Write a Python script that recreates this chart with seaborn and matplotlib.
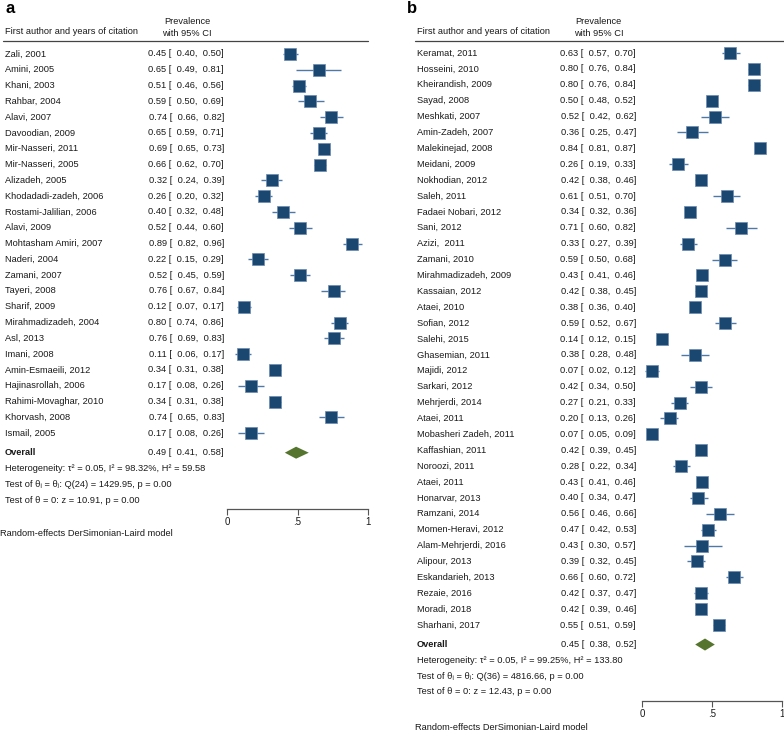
import numpy as np
import pandas as pd
import matplotlib
matplotlib.use("Agg")
import matplotlib.pyplot as plt
import matplotlib.transforms as mtransforms
from matplotlib.lines import Line2D
import seaborn as sns

# ---------------- data ----------------
names_a = ["Zali, 2001", "Amini, 2005", "Khani, 2003", "Rahbar, 2004", "Alavi, 2007",
           "Davoodian, 2009", "Mir-Nasseri, 2011", "Mir-Nasseri, 2005", "Alizadeh, 2005",
           "Khodadadi-zadeh, 2006", "Rostami-Jalilian, 2006", "Alavi, 2009",
           "Mohtasham Amiri, 2007", "Naderi, 2004", "Zamani, 2007", "Tayeri, 2008",
           "Sharif, 2009", "Mirahmadizadeh, 2004", "Asl, 2013", "Imani, 2008",
           "Amin-Esmaeili, 2012", "Hajinasrollah, 2006", "Rahimi-Movaghar, 2010",
           "Khorvash, 2008", "Ismail, 2005"]
est_a = [0.45, 0.65, 0.51, 0.59, 0.74, 0.65, 0.69, 0.66, 0.32, 0.26, 0.40, 0.52, 0.89,
         0.22, 0.52, 0.76, 0.12, 0.80, 0.76, 0.11, 0.34, 0.17, 0.34, 0.74, 0.17]
lo_a = [0.40, 0.49, 0.46, 0.50, 0.66, 0.59, 0.65, 0.62, 0.24, 0.20, 0.32, 0.44, 0.82,
        0.15, 0.45, 0.67, 0.07, 0.74, 0.69, 0.06, 0.31, 0.08, 0.31, 0.65, 0.08]
hi_a = [0.50, 0.81, 0.56, 0.69, 0.82, 0.71, 0.73, 0.70, 0.39, 0.32, 0.48, 0.60, 0.96,
        0.29, 0.59, 0.84, 0.17, 0.86, 0.83, 0.17, 0.38, 0.26, 0.38, 0.83, 0.26]
overall_a = [0.49, 0.41, 0.58]
stats_a = ["Heterogeneity: \u03c4\u00b2 = 0.05, I\u00b2 = 98.32%, H\u00b2 = 59.58",
           "Test of \u03b8\u1d62 = \u03b8\u2c7c: Q(24) = 1429.95, p = 0.00",
           "Test of \u03b8 = 0: z = 10.91, p = 0.00"]

names_b = ["Keramat, 2011", "Hosseini, 2010", "Kheirandish, 2009", "Sayad, 2008",
           "Meshkati, 2007", "Amin-Zadeh, 2007", "Malekinejad, 2008", "Meidani, 2009",
           "Nokhodian, 2012", "Saleh, 2011", "Fadaei Nobari, 2012", "Sani, 2012",
           "Azizi,  2011", "Zamani, 2010", "Mirahmadizadeh, 2009", "Kassaian, 2012",
           "Ataei, 2010", "Sofian, 2012", "Salehi, 2015", "Ghasemian, 2011",
           "Majidi, 2012", "Sarkari, 2012", "Mehrjerdi, 2014", "Ataei, 2011",
           "Mobasheri Zadeh, 2011", "Kaffashian, 2011", "Noroozi, 2011", "Ataei, 2011",
           "Honarvar, 2013", "Ramzani, 2014", "Momen-Heravi, 2012",
           "Alam-Mehrjerdi, 2016", "Alipour, 2013", "Eskandarieh, 2013",
           "Rezaie, 2016", "Moradi, 2018", "Sharhani, 2017"]
est_b = [0.63, 0.80, 0.80, 0.50, 0.52, 0.36, 0.84, 0.26, 0.42, 0.61, 0.34, 0.71, 0.33,
         0.59, 0.43, 0.42, 0.38, 0.59, 0.14, 0.38, 0.07, 0.42, 0.27, 0.20, 0.07, 0.42,
         0.28, 0.43, 0.40, 0.56, 0.47, 0.43, 0.39, 0.66, 0.42, 0.42, 0.55]
lo_b = [0.57, 0.76, 0.76, 0.48, 0.42, 0.25, 0.81, 0.19, 0.38, 0.51, 0.32, 0.60, 0.27,
        0.50, 0.41, 0.38, 0.36, 0.52, 0.12, 0.28, 0.02, 0.34, 0.21, 0.13, 0.05, 0.39,
        0.22, 0.41, 0.34, 0.46, 0.42, 0.30, 0.32, 0.60, 0.37, 0.39, 0.51]
hi_b = [0.70, 0.84, 0.84, 0.52, 0.62, 0.47, 0.87, 0.33, 0.46, 0.70, 0.36, 0.82, 0.39,
        0.68, 0.46, 0.45, 0.40, 0.67, 0.15, 0.48, 0.12, 0.50, 0.33, 0.26, 0.09, 0.45,
        0.34, 0.46, 0.47, 0.66, 0.53, 0.57, 0.45, 0.72, 0.47, 0.46, 0.59]
overall_b = [0.45, 0.38, 0.52]
stats_b = ["Heterogeneity: \u03c4\u00b2 = 0.05, I\u00b2 = 99.25%, H\u00b2 = 133.80",
           "Test of \u03b8\u1d62 = \u03b8\u2c7c: Q(36) = 4816.66, p = 0.00",
           "Test of \u03b8 = 0: z = 12.43, p = 0.00"]

tick_vals = [0, 0.5, 1]
tick_labels = ["0", ".5", "1"]
header_left = "First author and years of citation"
header_right = ["Prevalence", "with 95% CI"]
footer = "Random-effects DerSimonian-Laird model"

# ---------------- style ----------------
sns.set_theme(style="white")
plt.rcParams['font.family'] = ['Liberation Sans', 'DejaVu Sans']

W, H = 784, 730
FS = 6.7
TXT = '#1a1a1a'
SQ = '#1a476f'
CI = '#4f78a6'
DIA = '#55752f'

fig = plt.figure(figsize=(W / 100, H / 100), dpi=100)


def fx(px):
    return px / W


def fy(py):
    return 1 - py / H


def panel(letter, letter_x, names, est, lo, hi, overall, stats,
          ax_l, ax_r, row0, step, ax_bot, name_x, val_r, head_c, line_l, line_r):
    n = len(names)
    top_px = 41
    ax = fig.add_axes([fx(ax_l), fy(ax_bot), fx(ax_r) - fx(ax_l), (ax_bot - top_px) / H])
    ylo = (ax_bot - row0) / step
    yhi = (top_px - row0) / step
    ax.set_xlim(0, 1)
    ax.set_ylim(ylo, yhi)
    rows = np.arange(n)
    df = pd.DataFrame({"name": names, "est": est, "lo": lo, "hi": hi, "row": rows})

    ax.hlines(df["row"], df["lo"], df["hi"], color=CI, lw=1.0, zorder=2)
    sns.scatterplot(data=df, x="est", y="row", marker="s", s=64, color=SQ,
                    edgecolor='#6a8bb0', linewidth=0.5, ax=ax, zorder=3, legend=False)

    r_over = (step * (n - 1) + 19.5) / step
    e, l, h = overall
    hh = 0.38
    ax.fill([l, e, h, e], [r_over, r_over - hh, r_over, r_over + hh], color=DIA,
            zorder=3, lw=0)

    for s in ["top", "left", "right"]:
        ax.spines[s].set_visible(False)
    ax.spines["bottom"].set_color('#555555')
    ax.spines["bottom"].set_linewidth(0.9)
    ax.set_xticks(tick_vals)
    ax.set_xticklabels(tick_labels)
    ax.set_yticks([])
    ax.set_xlabel("")
    ax.set_ylabel("")
    ax.tick_params(axis='x', direction='out', length=4, width=0.8, color='#555555',
                   labelsize=FS + 0.3, labelcolor=TXT, pad=1.5, bottom=True)

    tr = mtransforms.blended_transform_factory(fig.transFigure, ax.transData)
    for i, row in df.iterrows():
        ax.text(fx(name_x), row["row"], row["name"], transform=tr, ha='left',
                va='center', fontsize=FS, color=TXT, clip_on=False)
        ax.text(fx(val_r), row["row"],
                f"{row['est']:.2f} [ {row['lo']:5.2f}, {row['hi']:5.2f}]",
                transform=tr, ha='right', va='center', fontsize=FS, color=TXT, clip_on=False)
    ax.text(fx(name_x), r_over, "Overall", transform=tr, ha='left', va='center',
            fontsize=FS, color=TXT, weight='bold', clip_on=False)
    ax.text(fx(val_r), r_over, f"{e:.2f} [ {l:5.2f}, {h:5.2f}]", transform=tr,
            ha='right', va='center', fontsize=FS, color=TXT, clip_on=False)
    for k, s in enumerate(stats):
        ax.text(fx(name_x), r_over + (15.8 * (k + 1)) / step, s, transform=tr,
                ha='left', va='center', fontsize=FS, color=TXT, clip_on=False)

    fig.text(fx(name_x), fy(31), header_left, ha='left', va='center', fontsize=FS, color=TXT)
    fig.text(fx(head_c), fy(21), header_right[0], ha='center', va='center', fontsize=FS, color=TXT)
    fig.text(fx(head_c), fy(33), header_right[1], ha='center', va='center', fontsize=FS, color=TXT)
    fig.add_artist(Line2D([fx(line_l), fx(line_r)], [fy(top_px), fy(top_px)],
                          color='#444444', lw=0.9))
    fig.text(fx(letter_x), fy(1), letter, ha='left', va='top', fontsize=12,
             weight='bold', color='black')
    return ax


ax_a = panel("a", 6, names_a, est_a, lo_a, hi_a, overall_a, stats_a,
             227, 368, 54, 15.8, 509, 5, 224, 187, 3, 368)
fig.text(fx(0), fy(534), footer, ha='left', va='center', fontsize=FS, color=TXT)

ax_b = panel("b", 407, names_b, est_b, lo_b, hi_b, overall_b, stats_b,
             642, 782, 53, 15.89, 701, 417, 636, 598.5, 415, 784)
fig.text(fx(415), fy(727), footer, ha='left', va='center', fontsize=FS, color=TXT)

fig.savefig("out.png", dpi=100)
